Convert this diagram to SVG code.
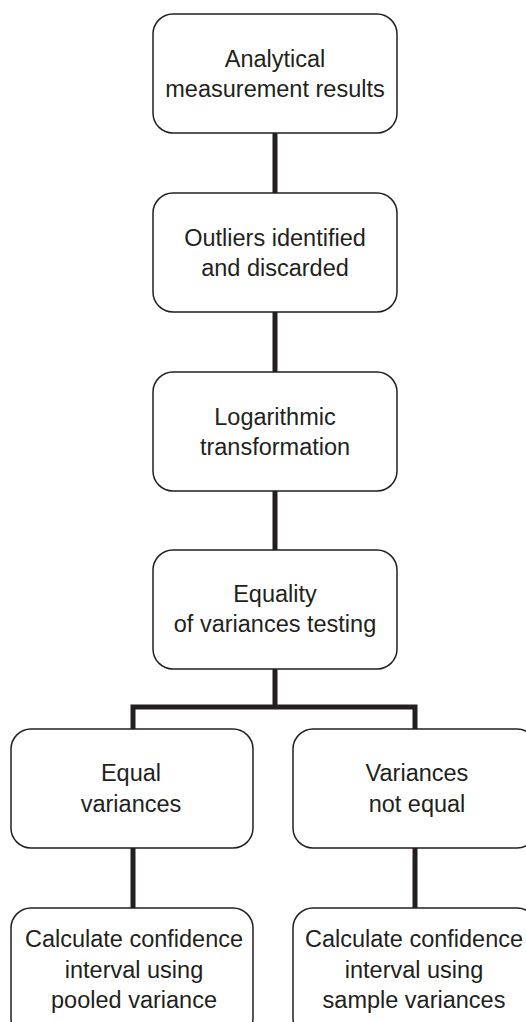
<svg xmlns="http://www.w3.org/2000/svg" width="526" height="1022" viewBox="0 0 526 1022">
<style>
.box{fill:#fff;stroke:#231f20;stroke-width:1.5}
.t{font-family:"Liberation Sans",Arial,sans-serif;font-size:23.5px;fill:#231f20;text-anchor:middle}
.c{stroke:#231f20;stroke-width:5;fill:none}
</style>
<rect width="526" height="1022" fill="#fff"/>
<g id="connectors">
<line class="c" x1="275" y1="133" x2="275" y2="193"/>
<line class="c" x1="275" y1="312" x2="275" y2="372"/>
<line class="c" x1="275" y1="491" x2="275" y2="550"/>
<line class="c" x1="275" y1="669" x2="275" y2="707"/>
<polyline class="c" points="133,729 133,707 415,707 415,729"/>
<line class="c" x1="133" y1="848" x2="133" y2="908"/>
<line class="c" x1="415" y1="848" x2="415" y2="908"/>
</g>
<g id="n1"><rect class="box" x="153" y="14" width="244" height="119" rx="20"/>
<text class="t" x="275" y="67">Analytical</text><text class="t" x="275" y="97">measurement results</text></g>
<g id="n2"><rect class="box" x="153" y="193" width="244" height="119" rx="20"/>
<text class="t" x="275" y="246">Outliers identified</text><text class="t" x="275" y="276">and discarded</text></g>
<g id="n3"><rect class="box" x="153" y="372" width="244" height="119" rx="20"/>
<text class="t" x="275" y="425">Logarithmic</text><text class="t" x="275" y="455">transformation</text></g>
<g id="n4"><rect class="box" x="153" y="550" width="244" height="119" rx="20"/>
<text class="t" x="275" y="602">Equality</text><text class="t" x="275" y="632">of variances testing</text></g>
<g id="n5"><rect class="box" x="11" y="729" width="242" height="119" rx="20"/>
<text class="t" x="131" y="781">Equal</text><text class="t" x="131" y="812">variances</text></g>
<g id="n6"><rect class="box" x="293" y="729" width="244" height="119" rx="20"/>
<text class="t" x="417" y="781">Variances</text><text class="t" x="417" y="812">not equal</text></g>
<g id="n7"><rect class="box" x="11" y="908" width="242" height="130" rx="20"/>
<text class="t" x="134" y="947">Calculate confidence</text><text class="t" x="134" y="978">interval using</text><text class="t" x="134" y="1008">pooled variance</text></g>
<g id="n8"><rect class="box" x="293" y="908" width="244" height="130" rx="20"/>
<text class="t" x="414" y="947">Calculate confidence</text><text class="t" x="414" y="978">interval using</text><text class="t" x="414" y="1008">sample variances</text></g>
</svg>
